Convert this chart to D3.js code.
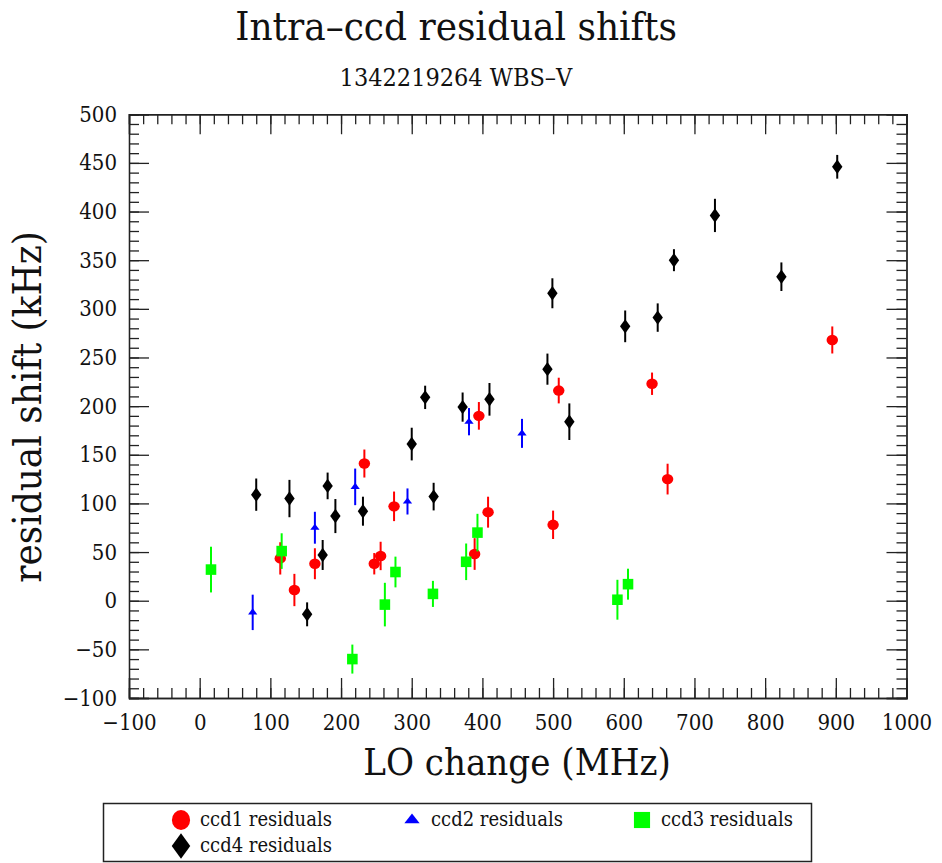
<!DOCTYPE html>
<html>
<head>
<meta charset="utf-8">
<script src="https://cdn.jsdelivr.net/npm/d3@7"></script>
<style>
	body { margin: 0; background: white; }
	svg text { font-family: "DejaVu Serif Condensed", "DejaVu Serif", serif; font-stretch: condensed; fill: #111; }
</style>
</head>
<body>
<div id="chart"></div>
<script>
// values
var ccd1_x = [114, 134, 163, 233, 247, 256, 275, 389, 395, 408, 500, 508, 640, 662, 895];
var ccd1_y = [43.5, 11, 38, 141, 38, 46, 97, 48, 190, 91, 78, 216, 223, 125, 268];
var ccd1_err = [16.6, 16.6, 15.9, 14.4, 11, 14.6, 15.2, 16.3, 14.2, 15.9, 14.6, 13.2, 11.5, 15.8, 13.9];

var ccd2_x = [75, 163, 220, 294, 381, 456];
var ccd2_y = [-12, 75, 117, 102, 184, 172];
var ccd2_err = [18.2, 16.4, 18.8, 13.4, 14, 14.9];

var ccd3_x = [16, 116, 216, 262, 277, 330, 377, 393, 591, 606];
var ccd3_y = [32, 51, -60, -4, 29.5, 7, 40, 70, 1, 17];
var ccd3_err = [23.5, 18.3, 14.9, 22.4, 15.8, 13.4, 18.8, 19.3, 20.5, 15.9];

var ccd4_x = [80, 127, 152, 174, 181, 192, 231, 300, 319, 331, 372, 410, 492, 499, 523, 602, 648, 671, 729, 823, 902];
var ccd4_y = [109, 105, -14, 47, 118, 87, 92, 161, 209, 107, 199, 207, 238, 316, 184, 282, 291, 350, 396, 333, 446];
var ccd4_err = [16.6, 19.2, 12.3, 15.4, 13.7, 17.5, 14.9, 16.8, 12, 14.2, 15, 16.8, 16, 15.4, 18.8, 16.3, 14.6, 11.3, 17.1, 14.7, 12.2];

var seriesNames = ["ccd1 residuals", "ccd2 residuals", "ccd3 residuals", "ccd4 residuals"];

var xMajor = d3.range(-100, 1001, 100);
var xMinor = d3.range(-100, 1001, 20);
var yMajor = d3.range(-100, 501, 50);
var yMinor = d3.range(-100, 501, 10);

ctx = {
	width: 942,
	height: 863,
	left: 129,
	right: 906.5,
	top: 114.25,
	bottom: 698,
};

var svg = d3.select("#chart")
	.append("svg")
	.attr("width", ctx.width)
	.attr("height", ctx.height);

var xscale = d3.scaleLinear().domain([-100, 1000]).range([ctx.left, ctx.right]);
var yscale = d3.scaleLinear().domain([-100, 500]).range([ctx.bottom, ctx.top]);

// titles
svg.append("text")
	.attr("x", 456).attr("y", 40)
	.attr("text-anchor", "middle")
	.style("font-size", "40px")
	.text("Intra\u2013ccd residual shifts");

svg.append("text")
	.attr("x", 456).attr("y", 86)
	.attr("text-anchor", "middle")
	.style("font-size", "25px")
	.text("1342219264 WBS\u2013V");

// frame + ticks on all four sides, pointing inwards
function addAxis(axis, tx, ty, cls) {
	svg.append("g")
		.attr("class", cls)
		.attr("transform", "translate(" + tx + "," + ty + ")")
		.call(axis);
}

addAxis(d3.axisBottom(xscale).tickValues(xMinor).tickSize(-10).tickFormat(""), 0, ctx.bottom, "ax");
addAxis(d3.axisBottom(xscale).tickValues(xMajor).tickSize(-20).tickPadding(16).tickFormat(d3.format("d")), 0, ctx.bottom, "ax xlab");
addAxis(d3.axisTop(xscale).tickValues(xMinor).tickSize(-10).tickFormat(""), 0, ctx.top, "ax");
addAxis(d3.axisTop(xscale).tickValues(xMajor).tickSize(-20).tickFormat(""), 0, ctx.top, "ax");
addAxis(d3.axisLeft(yscale).tickValues(yMinor).tickSize(-10).tickFormat(""), ctx.left, 0, "ax");
addAxis(d3.axisLeft(yscale).tickValues(yMajor).tickSize(-20).tickPadding(12).tickFormat(d3.format("d")), ctx.left, 0, "ax ylab");
addAxis(d3.axisRight(yscale).tickValues(yMinor).tickSize(-10).tickFormat(""), ctx.right, 0, "ax");
addAxis(d3.axisRight(yscale).tickValues(yMajor).tickSize(-20).tickFormat(""), ctx.right, 0, "ax");

svg.selectAll(".ax path, .ax line").attr("stroke", "#222").attr("stroke-width", 1.3);
svg.selectAll(".ax text").style("font-size", "22px").attr("fill", "#111")
	.style("font-family", "'DejaVu Serif Condensed', 'DejaVu Serif', serif");
svg.selectAll(".xlab text").text((d) => (d < 0 ? "\u2212" + Math.abs(d) : d));
svg.selectAll(".ylab text").text((d) => (d < 0 ? "\u2212" + Math.abs(d) : d));

// axis titles
svg.append("text")
	.attr("x", 517).attr("y", 775)
	.attr("text-anchor", "middle")
	.style("font-size", "38px")
	.text("LO change (MHz)");

svg.append("text")
	.attr("transform", "translate(41," + 407 + ") rotate(-90)")
	.attr("text-anchor", "middle")
	.style("font-size", "40px")
	.text("residual shift (kHz)");

// markers
var symCircle = d3.symbol().type(d3.symbolCircle);
var symTri = d3.symbol().type(d3.symbolTriangle);
var symSquare = d3.symbol().type(d3.symbolSquare);
var symDiamond = d3.symbol().type(d3.symbolDiamond);

function drawSeries(xs, ys, errs, color, sym, size, sx, sy) {
	var pts = xs.map((x, i) => ({ x: x, y: ys[i], e: errs[i] }));
	var g = svg.append("g");
	g.selectAll("line")
		.data(pts)
		.join("line")
		.attr("x1", (d) => xscale(d.x))
		.attr("x2", (d) => xscale(d.x))
		.attr("y1", (d) => yscale(d.y - d.e))
		.attr("y2", (d) => yscale(d.y + d.e))
		.attr("stroke", color)
		.attr("stroke-width", 2);
	g.selectAll("path")
		.data(pts)
		.join("path")
		.attr("d", sym.size(size)())
		.attr("transform", (d) => "translate(" + xscale(d.x) + "," + yscale(d.y) + ") scale(" + sx + "," + sy + ")")
		.attr("fill", color);
}

drawSeries(ccd1_x, ccd1_y, ccd1_err, "#ff0000", symCircle, 85, 1.1, 1);
drawSeries(ccd2_x, ccd2_y, ccd2_err, "#0000ff", symTri, 26, 1.2, 0.9);
drawSeries(ccd3_x, ccd3_y, ccd3_err, "#00ff00", symSquare, 112, 1, 1);
drawSeries(ccd4_x, ccd4_y, ccd4_err, "#000000", symDiamond, 60, 1.25, 1);

// legend
var legend = svg.append("g");
legend.append("rect")
	.attr("x", 103.5).attr("y", 803.5)
	.attr("width", 708).attr("height", 58)
	.attr("fill", "white")
	.attr("stroke", "#222")
	.attr("stroke-width", 1.5);

var legendItems = [
	{ name: seriesNames[0], color: "#ff0000", sym: symCircle, size: 260, sx: 1, sy: 1.1, x: 181, y: 820 },
	{ name: seriesNames[1], color: "#0000ff", sym: symTri, size: 70, sx: 1.2, sy: 0.9, x: 412, y: 820 },
	{ name: seriesNames[2], color: "#00ff00", sym: symSquare, size: 260, sx: 1, sy: 1, x: 642, y: 820 },
	{ name: seriesNames[3], color: "#000000", sym: symDiamond, size: 190, sx: 1.25, sy: 1, x: 181, y: 846 },
];

legendItems.forEach(function (it) {
	legend.append("path")
		.attr("d", it.sym.size(it.size)())
		.attr("transform", "translate(" + it.x + "," + it.y + ") scale(" + it.sx + "," + it.sy + ")")
		.attr("fill", it.color);
	legend.append("text")
		.attr("x", it.x + 19).attr("y", it.y + 6)
		.style("font-size", "20px")
		.text(it.name);
});
</script>
</body>
</html>
